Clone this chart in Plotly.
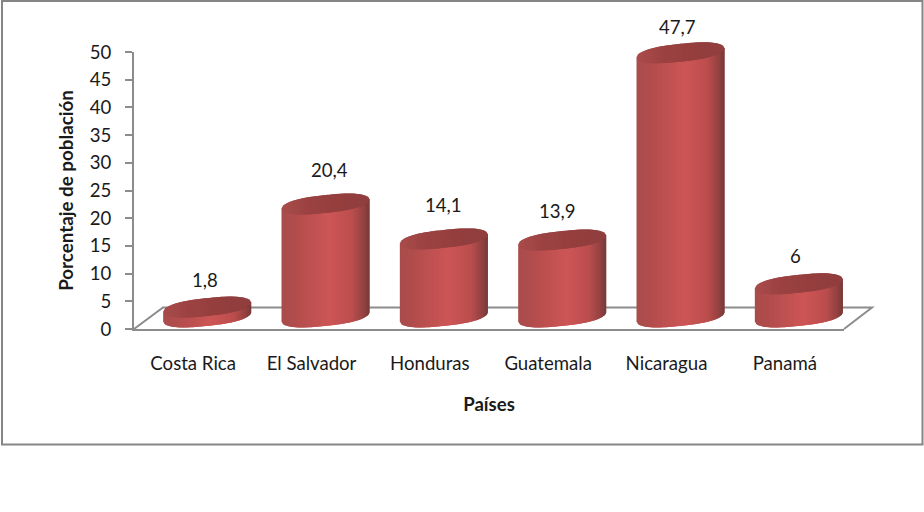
import numpy as np
import plotly.graph_objects as go

categories = ["Costa Rica", "El Salvador", "Honduras", "Guatemala", "Nicaragua", "Panamá"]
values = [1.8, 20.4, 14.1, 13.9, 47.7, 6]
value_labels = ["1,8", "20,4", "14,1", "13,9", "47,7", "6"]
y_ticks = [0, 5, 10, 15, 20, 25, 30, 35, 40, 45, 50]

# layout in pixels
W, H = 924, 512
L, R, T, B = 134, 844, 52, 329
SX = (R - L) / len(categories)   # px per category
SY = (B - T) / 50                # px per unit
GREY = "#8c8c8c"
FONT = "Lato"

# cylinder geometry, in axis units
DX = 14 / SX          # depth shift right
DY = 12 / SY          # depth shift up
A = 44 / SX           # half width
EB = 8.9 / SY         # ellipse half height
ES = 4.6 / SY         # ellipse tilt
N = 44
OVER = 2.2 / N        # strips overlap the previous one, hiding seams


def mix(stops, t):
    xs = [s[0] for s in stops]
    return "rgb(%d,%d,%d)" % tuple(np.interp(t, xs, [s[1][k] for s in stops]) for k in range(3))


def half(cs):
    # slightly blunt ellipse ends, as in the rendered cylinders
    return np.sqrt(np.clip(1 - np.abs(cs) ** 2.7, 0, 1))


SIDE = [(0, (170, 76, 76)), (0.12, (176, 76, 76)), (0.55, (206, 86, 86)),
        (0.8, (188, 78, 78)), (0.93, (150, 66, 66)), (1, (118, 58, 58))]
TOP = [(0, (170, 76, 76)), (0.3, (156, 66, 66)), (0.7, (148, 62, 62)), (1, (144, 62, 62))]

fig = go.Figure()


def poly(xs, ys, color):
    fig.add_trace(go.Scatter(
        x=xs, y=ys, mode="lines", fill="toself", fillcolor=color,
        line=dict(width=0), xaxis="x2", yaxis="y2",
        hoverinfo="skip", showlegend=False))


for i, v in enumerate(values):
    cx = i + DX
    base = DY
    top = v + DY
    edges = np.linspace(-1, 1, N + 1)
    # side strips
    for c0, c1 in zip(edges[:-1], edges[1:]):
        cs = np.linspace(c0, min(c1 + OVER, 1), 4)
        low = base + ES * cs - EB * half(cs)
        up = top + ES * cs
        poly(np.r_[cx + A * cs, cx + A * cs[::-1]], np.r_[low, up[::-1]],
             mix(SIDE, (0.5 * (c0 + c1) + 1) / 2))
    # top ellipse strips
    for c0, c1 in zip(edges[:-1], edges[1:]):
        cs = np.linspace(c0, min(c1 + OVER, 1), 4)
        h = EB * half(cs)
        mid = top + ES * cs
        poly(np.r_[cx + A * cs, cx + A * cs[::-1]], np.r_[mid - h, (mid + h)[::-1]],
             mix(TOP, (0.5 * (c0 + c1) + 1) / 2))


def px(x):
    return x / W


def py(y):
    return (H - y) / H


shapes = [
    dict(type="rect", xref="paper", yref="paper", x0=px(2), x1=px(922.5), y0=py(1), y1=py(444.5),
         line=dict(color="#858585", width=2), layer="below"),
    dict(type="path", xref="paper", yref="paper", layer="below",
         path=f"M{px(134)},{py(329)} L{px(163)},{py(307.5)} L{px(872)},{py(307.5)} L{px(844)},{py(329)}",
         line=dict(color=GREY, width=2)),
]

label_shift_px = [39, 46, 46, 41, 38, 40]
label_dx_px = [12, 18, 14, 9, 11, 11]
annotations = [
    dict(x=i, y=v, text=t, showarrow=False, xref="x", yref="y", xanchor="center", yanchor="middle",
         xshift=dx, yshift=s, font=dict(family=FONT, size=18.6, color="#1a1a1a"))
    for i, (v, t, s, dx) in enumerate(zip(values, value_labels, label_shift_px, label_dx_px))
]

fig.update_layout(
    width=W, height=H, autosize=False,
    margin=dict(l=0, r=0, t=0, b=0, pad=0),
    paper_bgcolor="white", plot_bgcolor="rgba(0,0,0,0)",
    font=dict(family=FONT, size=18.6, color="#1a1a1a"),
    showlegend=False, hovermode=False,
    shapes=shapes, annotations=annotations,
    xaxis=dict(domain=[L / W, R / W], range=[-0.5, 5.5], tickmode="array", tickvals=list(range(6)),
               ticktext=categories, anchor="y",
               showgrid=False, zeroline=False, showline=True, linecolor=GREY, linewidth=2,
               ticks="", ticklabelstandoff=17, automargin=False,
               title=dict(text="<b>Países</b>", font=dict(family=FONT, size=18.6), standoff=25)),
    yaxis=dict(domain=[(H - B) / H, (H - T) / H], range=[0, 50], tickmode="array", tickvals=y_ticks,
               ticktext=[str(t) for t in y_ticks], anchor="x",
               showgrid=False, zeroline=False, showline=True, linecolor=GREY, linewidth=2,
               ticks="outside", ticklen=7, tickwidth=2, tickcolor=GREY, ticklabelstandoff=10, automargin=False,
               title=dict(text="<b>Porcentaje de población</b>", font=dict(family=FONT, size=18.8), standoff=11)),
    # full-figure axes with the same scales, so the cylinders can rise above the 50 tick
    xaxis2=dict(domain=[0, 1], range=[-0.5 - L / SX, -0.5 + (W - L) / SX], visible=False, anchor="y2"),
    yaxis2=dict(domain=[0, 1], range=[-(H - B) / SY, B / SY], visible=False, anchor="x2"),
)

fig.write_html("out.html", config=dict(displayModeBar=False),
               post_script="document.body.style.margin='0';")
